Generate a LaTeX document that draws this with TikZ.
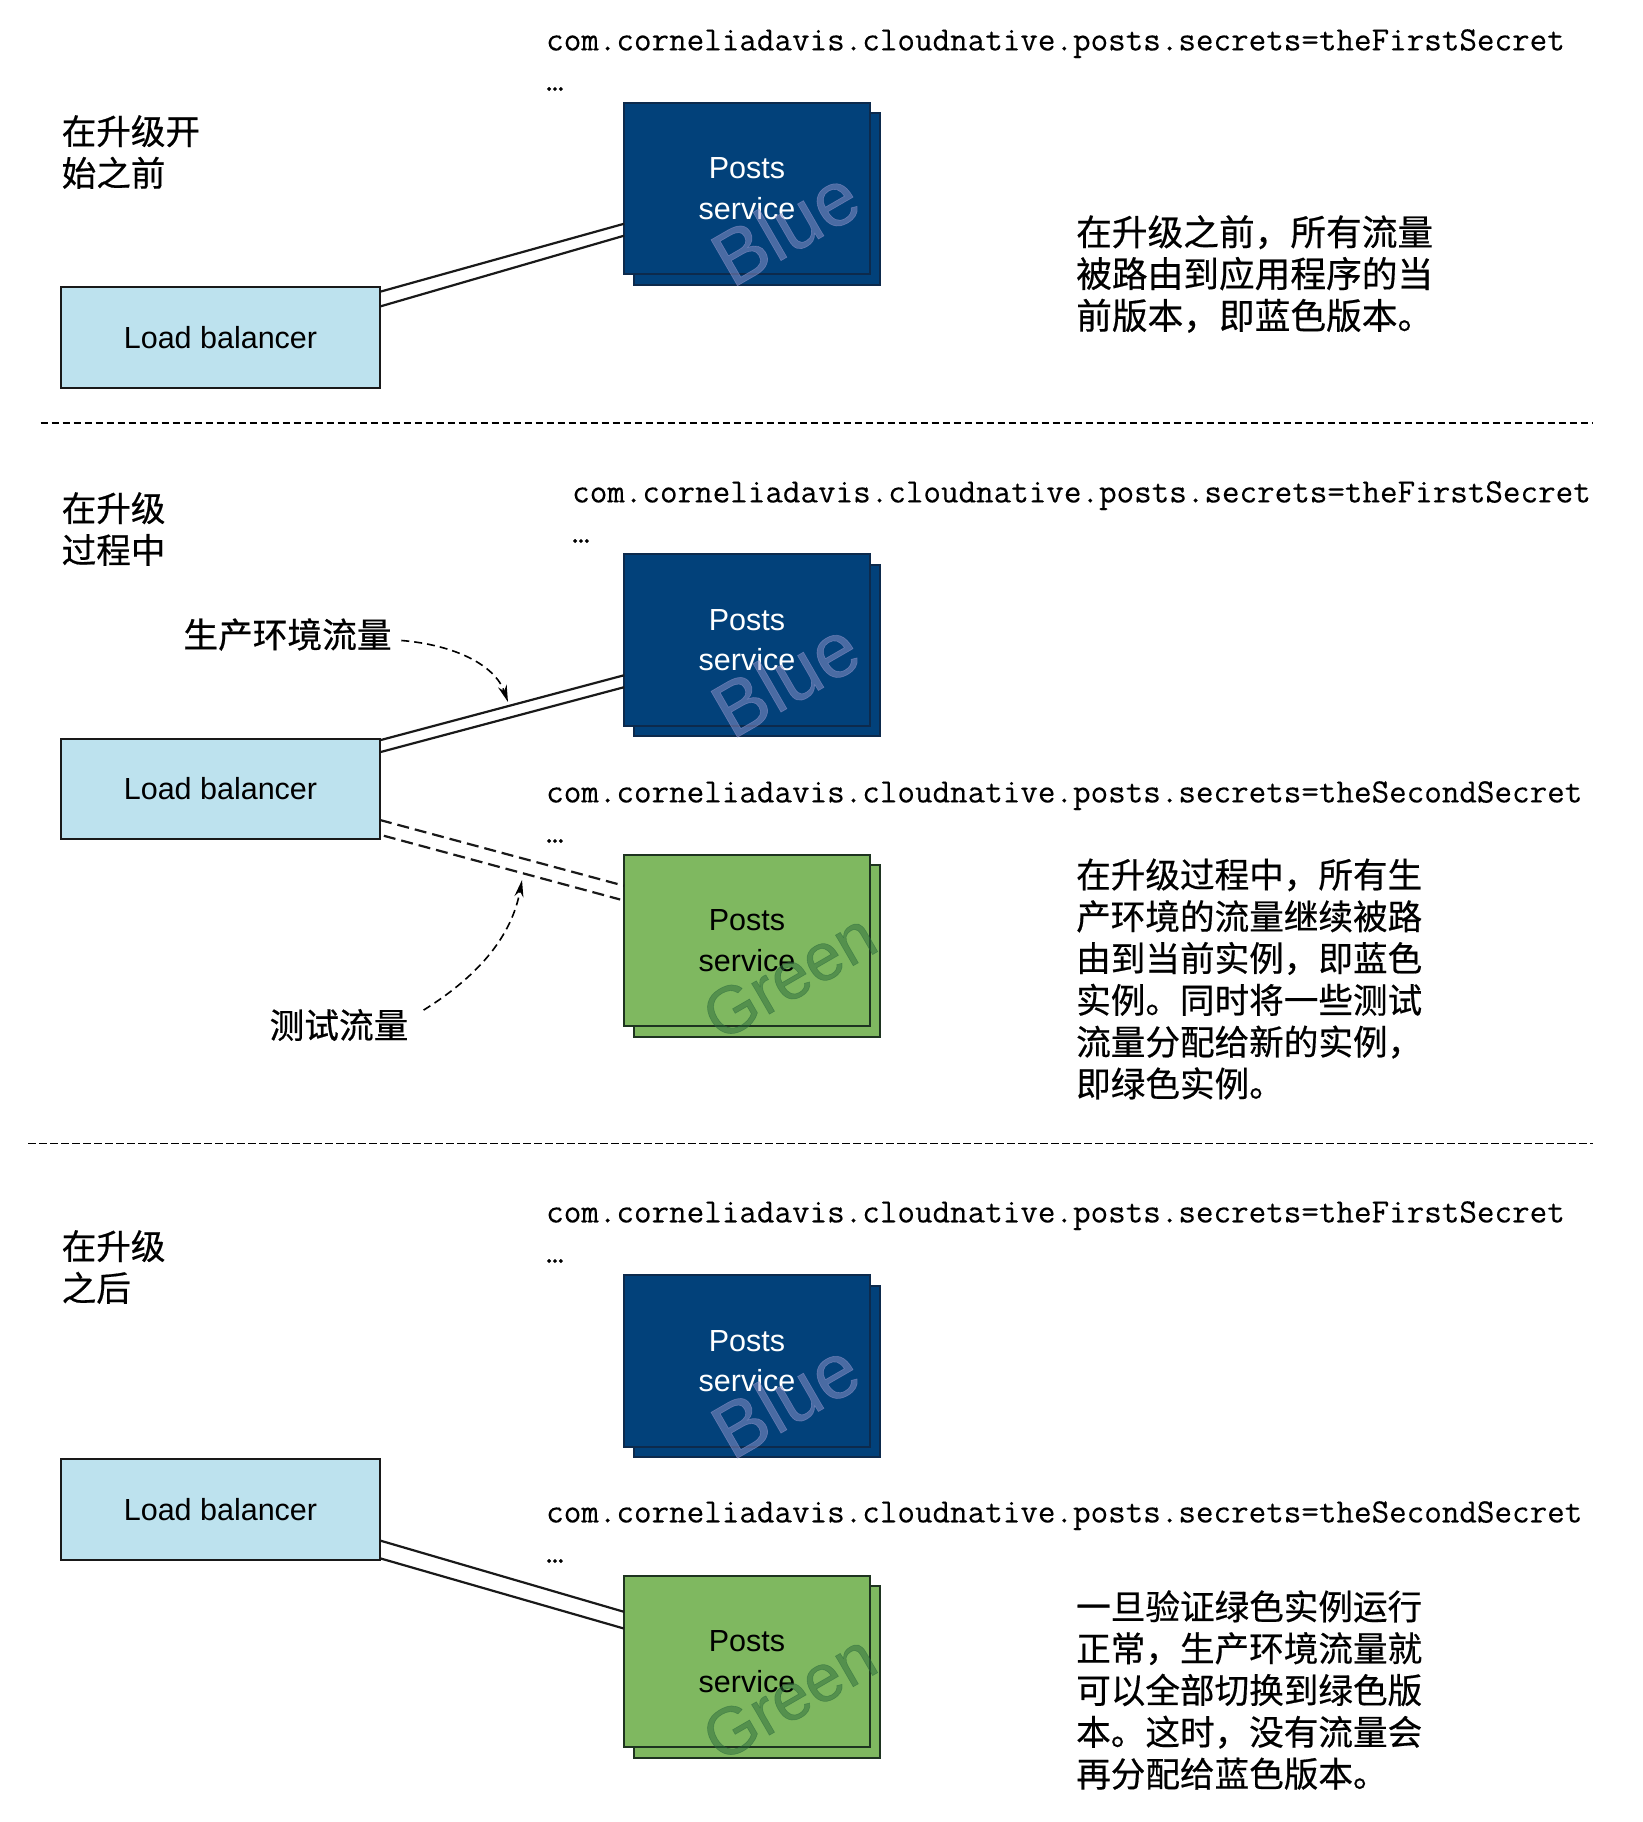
\documentclass[tikz,border=0pt]{standalone}
\usepackage{fontspec}
\setsansfont{Liberation Sans}
\setmonofont{Latin Modern Mono}[FakeBold=0.25]
\newfontfamily\cjk{Noto Sans CJK SC}[FakeBold=0.5]
\newfontfamily\markfont{Liberation Sans}[FakeBold=0.8]
\usepackage{tikz}
\usetikzlibrary{arrows.meta}
\definecolor{lbfill}{HTML}{BDE2EE}
\definecolor{bluefill}{HTML}{02417A}
\definecolor{blueedge}{HTML}{0D2A4C}
\definecolor{bluemark}{HTML}{9295CC}
\definecolor{greenfill}{HTML}{7FB860}
\definecolor{greenedge}{HTML}{1E3320}
\definecolor{greenmark}{HTML}{2A6A3C}
\tikzset{
	lbbox/.style={draw=black!90, line width=2.2pt, fill=lbfill, outer sep=0pt, inner sep=0pt, minimum width=319pt, minimum height=100.5pt, font=\sffamily\fontsize{30.5}{36}\selectfont},
	svcbox/.style={line width=2.2pt, outer sep=0pt, inner sep=0pt, minimum width=246pt, minimum height=171.5pt},
	blueback/.style={svcbox, draw=blueedge, fill=bluefill},
	bluefront/.style={svcbox, draw=blueedge, fill=bluefill},
	bluemk/.style={text=bluemark, text opacity=.5, rotate=30, inner sep=0pt, font=\markfont\fontsize{77}{79}\selectfont},
	bluetext/.style={text=white, align=center, inner sep=0pt, font=\sffamily\fontsize{30.5}{40.5}\selectfont},
	greenback/.style={svcbox, draw=greenedge, fill=greenfill},
	greenfront/.style={svcbox, draw=greenedge, fill=greenfill},
	greenmk/.style={text=greenmark, text opacity=.5, rotate=30, xshift=5pt, inner sep=0pt, font=\markfont\fontsize{67}{69}\selectfont},
	greentext/.style={text=black, align=center, inner sep=0pt, font=\sffamily\fontsize{30.5}{40.5}\selectfont},
	cjktext/.style={align=left, anchor=west, inner sep=0pt, font=\cjk\fontsize{34.6}{41.8}\selectfont},
	cjkwide/.style={cjktext, font=\cjk\fontsize{35.7}{41.8}\selectfont},
	codetext/.style={align=left, anchor=north west, inner sep=0pt, font=\ttfamily\fontsize{34.1}{40.5}\selectfont},
	flowlabel/.style={font=\cjk\fontsize{34.7}{42}\selectfont},
	link/.style={line width=2.2pt, black!90},
	testlink/.style={link, dash pattern=on 12pt off 6pt},
	callout/.style={line width=1.6pt, dash pattern=on 8pt off 5pt, -{Stealth[length=17pt,width=9pt]}},
	sepline/.style={line width=1.5pt, dash pattern=on 7.5pt off 3.5pt}
}
\begin{document}
\begin{tikzpicture}[x=1pt,y=-1pt]
	\useasboundingbox (0,0) rectangle (1642,1822);
	\foreach \svc/\kind/\txt/\cy in {blueA/blue/Blue/188.5, blueB/blue/Blue/640, greenB/green/Green/940.5, blueC/blue/Blue/1361, greenC/green/Green/1661.5}
	{
		\node[\kind back] (\svc-back) at (757,\cy+10.5) {};
		\node[\kind front] (\svc) at (747,\cy) {};
		\node[\kind text] (\svc-text) at (747,\cy) {Posts\\service};
		\node[\kind mk] (\svc-mark) at (785,\cy+38) {\txt};
	}
	\node[lbbox] (lbA) at (220.5,337.5) {Load balancer};
	\node[lbbox] (lbB) at (220.5,789) {Load balancer};
	\node[lbbox] (lbC) at (220.5,1509.5) {Load balancer};
	\node[codetext] (codeA) at (546,29) {com.corneliadavis.cloudnative.posts.secrets=theFirstSecret\\…};
	\node[codetext] (codeB) at (572,481) {com.corneliadavis.cloudnative.posts.secrets=theFirstSecret\\…};
	\node[codetext] (codeBg) at (546,781) {com.corneliadavis.cloudnative.posts.secrets=theSecondSecret\\…};
	\node[codetext] (codeC) at (546,1201) {com.corneliadavis.cloudnative.posts.secrets=theFirstSecret\\…};
	\node[codetext] (codeCg) at (546,1501) {com.corneliadavis.cloudnative.posts.secrets=theSecondSecret\\…};
	\node[cjktext] (headA) at (61.5,152) {在升级开\\始之前};
	\node[cjktext] (headB) at (61.5,529) {在升级\\过程中};
	\node[cjktext] (headC) at (61.5,1267) {在升级\\之后};
	\node[cjkwide] (noteA) at (1076,274) {在升级之前，所有流量\\被路由到应用程序的当\\前版本，即蓝色版本。};
	\node[cjktext] (noteB) at (1076,979) {在升级过程中，所有生\\产环境的流量继续被路\\由到当前实例，即蓝色\\实例。同时将一些测试\\流量分配给新的实例，\\即绿色实例。};
	\node[cjktext] (noteC) at (1076,1690) {一旦验证绿色实例运行\\正常，生产环境流量就\\可以全部切换到绿色版\\本。这时，没有流量会\\再分配给蓝色版本。};
	\node[flowlabel, inner sep=9.5pt] (prodlabel) at (287.5,634.5) {生产环境流量};
	\node[flowlabel, inner sep=15pt] (testlabel) at (339,1025) {测试流量};
	\path[link]
	(lbA.16) edge (blueA.196)
	(lbA.11.5) edge (blueA.201)
	(lbB.17.4) edge (blueB.196)
	(lbB.13) edge (blueB.201)
	(lbC.-11.5) edge (greenC.158.7)
	(lbC.-17.4) edge (greenC.165.4)
	;
	\path[testlink]
	(lbB.-11.3) edge (greenB.156.5)
	(lbB.-16) edge[shorten <=4pt, shorten >=4pt] (greenB.162.6)
	;
	\coordinate (prodtip) at (508,702);
	\coordinate (testtip) at (522,880);
	\draw[callout] (prodlabel.-3) .. controls (455,645) and (495,665) .. (prodtip);
	\draw[callout] (testlabel.10) .. controls (480,975) and (512,935) .. (testtip);
	\coordinate (sepAl) at (40.5,423);
	\coordinate (sepAr) at (1592.5,423);
	\coordinate (sepBl) at (28,1143.5);
	\coordinate (sepBr) at (1592.5,1143.5);
	\draw[sepline] (sepAl) -- (sepAr);
	\draw[sepline] (sepBl) -- (sepBr);
\end{tikzpicture}
\end{document}
